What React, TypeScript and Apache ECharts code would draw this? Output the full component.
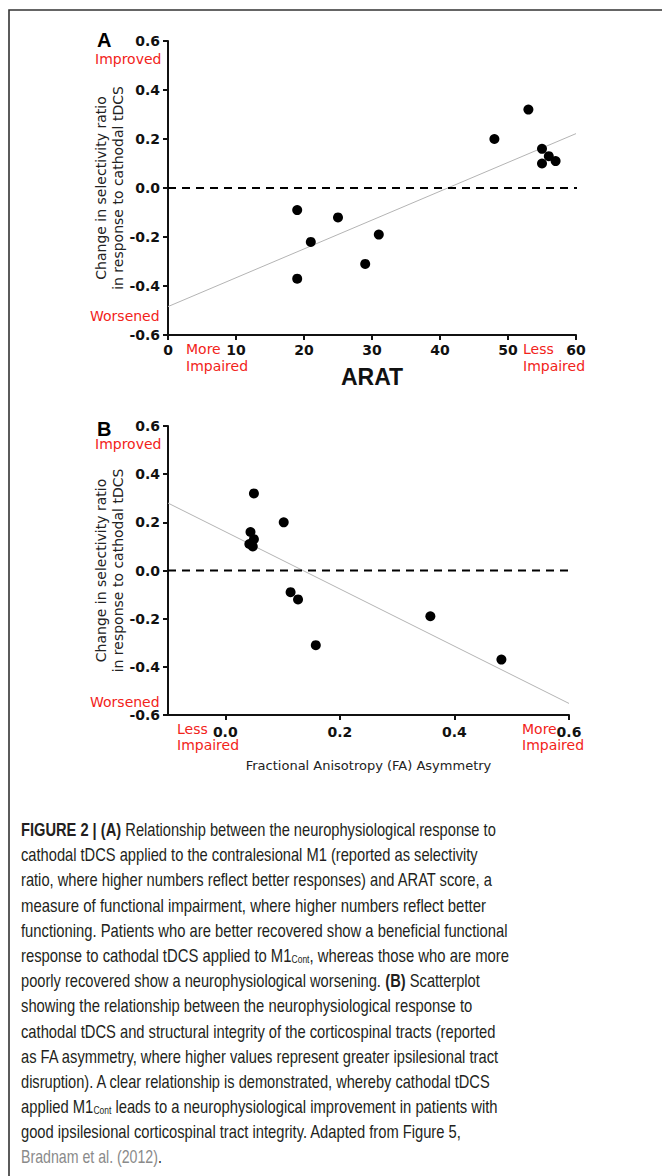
import React, { useEffect, useRef } from 'react';
import * as echarts from 'echarts';

// Panel A: ARAT score vs change in selectivity ratio
const aratScore = [19, 21, 19, 25, 29, 31, 48, 53, 55, 56, 55, 57];
const ratioA = [-0.09, -0.22, -0.37, -0.12, -0.31, -0.19, 0.2, 0.32, 0.16, 0.13, 0.1, 0.11];
const fitAx = [0, 60];
const fitAy = [-0.484, 0.222];

// Panel B: FA asymmetry vs change in selectivity ratio
const faAsym = [0.044, 0.05, 0.042, 0.048, 0.05, 0.102, 0.114, 0.127, 0.158, 0.358, 0.482];
const ratioB = [0.16, 0.13, 0.11, 0.1, 0.32, 0.2, -0.09, -0.12, -0.31, -0.19, -0.37];
const fitBx = [-0.1, 0.6];
const fitBy = [0.28, -0.552];

const faTicks = [0, 0.2, 0.4, 0.6];

const captionLines = [
  '{b|FIGURE 2 | (A)} Relationship between the neurophysiological response to',
  'cathodal tDCS applied to the contralesional M1 (reported as selectivity',
  'ratio, where higher numbers reflect better responses) and ARAT score, a',
  'measure of functional impairment, where higher numbers reflect better',
  'functioning. Patients who are better recovered show a beneficial functional',
  'response to cathodal tDCS applied to M1{sub|Cont}, whereas those who are more',
  'poorly recovered show a neurophysiological worsening. {b|(B)} Scatterplot',
  'showing the relationship between the neurophysiological response to',
  'cathodal tDCS and structural integrity of the corticospinal tracts (reported',
  'as FA asymmetry, where higher values represent greater ipsilesional tract',
  'disruption). A clear relationship is demonstrated, whereby cathodal tDCS',
  'applied M1{sub|Cont} leads to a neurophysiological improvement in patients with',
  'good ipsilesional corticospinal tract integrity. Adapted from Figure 5,',
  '{g|Bradnam et al. (2012)}.',
];
// right edge (px) of each caption line in the reference layout
const captionRight = [496, 478, 493, 486, 508, 509, 480, 473, 496, 499, 492, 498, 462, 162];

const RED = '#f2231a';
const AX = '#111';
const CAP_FONT = 'Liberation Sans';
const CAP_SIZE = 17.5;
const CAP_LEFT = 21;
const yName = 'Change in selectivity ratio\nin response to cathodal tDCS';

function valueAxisY(gridIndex: number) {
  return {
    type: 'value',
    gridIndex,
    min: -0.6,
    max: 0.6,
    interval: 0.2,
    name: yName,
    nameLocation: 'middle',
    nameGap: 42,
    nameMoveOverlap: false,
    nameTextStyle: { fontFamily: 'DejaVu Sans', fontSize: 14, lineHeight: 17, color: '#222' },
    axisLine: { show: true, onZero: false, lineStyle: { color: AX, width: 2 } },
    axisTick: { show: true, length: 5, lineStyle: { color: AX, width: 2 } },
    axisLabel: {
      margin: 8,
      fontFamily: 'DejaVu Sans',
      fontWeight: 'bold',
      fontSize: 14,
      color: AX,
      formatter: (v: number) => v.toFixed(1),
    },
    splitLine: { show: false },
  };
}

function redText(x: number, y: number, text: string) {
  return {
    type: 'text',
    x,
    y,
    style: {
      text,
      fill: RED,
      fontFamily: 'DejaVu Sans',
      fontSize: 14,
      textAlign: 'left',
      textVerticalAlign: 'middle',
    },
  };
}

function measureLine(ctx: CanvasRenderingContext2D | null, line: string) {
  if (!ctx) return 0;
  const fonts: Record<string, string> = {
    plain: `${CAP_SIZE}px "${CAP_FONT}"`,
    b: `bold ${CAP_SIZE}px "${CAP_FONT}"`,
    g: `${CAP_SIZE}px "${CAP_FONT}"`,
    sub: `10px "${CAP_FONT}"`,
  };
  const re = /\{(\w+)\|([^}]*)\}/g;
  let total = 0;
  let last = 0;
  let m: RegExpExecArray | null;
  const add = (txt: string, key: string) => {
    if (!txt) return;
    ctx.font = fonts[key] || fonts.plain;
    total += ctx.measureText(txt).width;
  };
  while ((m = re.exec(line))) {
    add(line.slice(last, m.index), 'plain');
    add(m[2], m[1]);
    last = m.index + m[0].length;
  }
  add(line.slice(last), 'plain');
  return total;
}

export default function App() {
  const ref = useRef<HTMLDivElement>(null);
  useEffect(() => {
    if (!ref.current) return;
    const chart = echarts.init(ref.current, undefined, { renderer: 'svg' });
    const ctx = document.createElement('canvas').getContext('2d');

    const captionGraphics = captionLines.map((line, i) => {
      const w = measureLine(ctx, line);
      const sx = w > 0 ? (captionRight[i] - CAP_LEFT) / w : 0.84;
      return {
        type: 'text',
        x: CAP_LEFT,
        y: 829.5 + i * 25.2,
        scaleX: sx,
        style: {
          text: line,
          fill: '#231f20',
          fontFamily: CAP_FONT,
          fontSize: CAP_SIZE,
          textAlign: 'left',
          textVerticalAlign: 'middle',
          rich: {
            b: { fontFamily: CAP_FONT, fontSize: CAP_SIZE, fontWeight: 'bold', fill: '#231f20' },
            sub: { fontFamily: CAP_FONT, fontSize: 10, verticalAlign: 'bottom', lineHeight: 12, fill: '#231f20' },
            g: { fontFamily: CAP_FONT, fontSize: CAP_SIZE, fill: '#8a8a8a' },
          },
        },
      };
    });

    const option = {
      animation: false,
      backgroundColor: '#fff',
      grid: [
        { left: 168, top: 41, width: 408, height: 294 },
        { left: 168, top: 426, width: 401, height: 289 },
      ],
      xAxis: [
        {
          type: 'value',
          gridIndex: 0,
          min: 0,
          max: 60,
          interval: 10,
          name: 'ARAT',
          nameLocation: 'middle',
          nameGap: 30,
          nameMoveOverlap: false,
          nameTextStyle: { fontFamily: 'Liberation Sans', fontWeight: 'bold', fontSize: 23, color: AX },
          axisLine: { show: true, onZero: false, lineStyle: { color: AX, width: 2 } },
          axisTick: { show: true, length: 5, lineStyle: { color: AX, width: 2 } },
          axisLabel: { margin: 8, fontFamily: 'DejaVu Sans', fontWeight: 'bold', fontSize: 14, color: AX },
          splitLine: { show: false },
        },
        {
          type: 'value',
          gridIndex: 1,
          min: -0.1,
          max: 0.6,
          name: 'Fractional Anisotropy (FA) Asymmetry',
          nameLocation: 'middle',
          nameGap: 44,
          nameMoveOverlap: false,
          nameTextStyle: { fontFamily: 'DejaVu Sans', fontSize: 13, color: '#222' },
          axisLine: { show: true, onZero: false, lineStyle: { color: AX, width: 2 } },
          axisTick: { show: true, length: 5, customValues: faTicks, lineStyle: { color: AX, width: 2 } },
          axisLabel: {
            margin: 10,
            customValues: faTicks,
            fontFamily: 'DejaVu Sans',
            fontWeight: 'bold',
            fontSize: 14,
            color: AX,
            formatter: (v: number) => v.toFixed(1),
          },
          splitLine: { show: false },
        },
      ],
      yAxis: [valueAxisY(0), valueAxisY(1)],
      series: [
        {
          type: 'line',
          xAxisIndex: 0,
          yAxisIndex: 0,
          data: fitAx.map((x, i) => [x, fitAy[i]]),
          symbol: 'none',
          lineStyle: { color: '#b4b4b4', width: 1 },
          z: 1,
        },
        {
          type: 'line',
          xAxisIndex: 0,
          yAxisIndex: 0,
          data: [[0, 0], [60.8, 0]],
          clip: false,
          symbol: 'none',
          lineStyle: { color: '#000', width: 2, type: [8, 6] },
          z: 2,
        },
        {
          type: 'scatter',
          xAxisIndex: 0,
          yAxisIndex: 0,
          data: aratScore.map((x, i) => [x, ratioA[i]]),
          symbolSize: 10,
          itemStyle: { color: '#000', opacity: 1 },
          z: 3,
        },
        {
          type: 'line',
          xAxisIndex: 1,
          yAxisIndex: 1,
          data: fitBx.map((x, i) => [x, fitBy[i]]),
          symbol: 'none',
          lineStyle: { color: '#b4b4b4', width: 1 },
          z: 1,
        },
        {
          type: 'line',
          xAxisIndex: 1,
          yAxisIndex: 1,
          data: [[-0.1, 0], [0.61, 0]],
          clip: false,
          symbol: 'none',
          lineStyle: { color: '#000', width: 2, type: [8, 6] },
          z: 2,
        },
        {
          type: 'scatter',
          xAxisIndex: 1,
          yAxisIndex: 1,
          data: faAsym.map((x, i) => [x, ratioB[i]]),
          symbolSize: 10,
          itemStyle: { color: '#000', opacity: 1 },
          z: 3,
        },
      ],
      graphic: [
        {
          type: 'rect',
          shape: { x: 9, y: 10, width: 720, height: 1220 },
          style: { fill: 'none', stroke: '#333', lineWidth: 1.6 },
          silent: true,
        },
        {
          type: 'text',
          x: 97,
          y: 40,
          style: { text: 'A', fill: '#000', fontFamily: 'Liberation Sans', fontWeight: 'bold', fontSize: 20, textAlign: 'left', textVerticalAlign: 'middle' },
        },
        {
          type: 'text',
          x: 97,
          y: 429,
          style: { text: 'B', fill: '#000', fontFamily: 'Liberation Sans', fontWeight: 'bold', fontSize: 20, textAlign: 'left', textVerticalAlign: 'middle' },
        },
        redText(95, 59, 'Improved'),
        redText(90, 315.5, 'Worsened'),
        redText(186, 349, 'More'),
        redText(186, 365.5, 'Impaired'),
        redText(523, 349, 'Less'),
        redText(523, 365.5, 'Impaired'),
        redText(95, 444, 'Improved'),
        redText(90, 702, 'Worsened'),
        redText(177, 728.5, 'Less'),
        redText(177, 745, 'Impaired'),
        redText(522, 728.5, 'More'),
        redText(522, 745, 'Impaired'),
        ...captionGraphics,
      ],
    };

    chart.setOption(option as any);
    return () => chart.dispose();
  }, []);

  return (
    <div
      ref={ref}
      style={{ position: 'absolute', left: 0, top: 0, width: 662, height: 1176 }}
    />
  );
}
